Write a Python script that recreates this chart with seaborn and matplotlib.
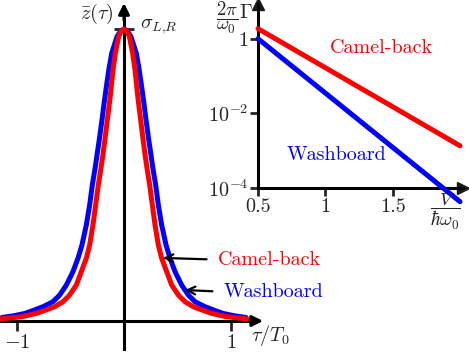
import matplotlib
matplotlib.use("Agg")
import matplotlib.pyplot as plt
import pandas as pd
import seaborn as sns


# main panel (tau / T0, z bar)
RED_TAU = [-1.15, -0.95, -0.82, -0.726, -0.648, -0.57, -0.508, -0.446, -0.399, -0.352, -0.321, -0.29,
           -0.265, -0.24, -0.213, -0.195, -0.175, -0.156, -0.136, -0.119, -0.103, -0.081, -0.05, -0.025,
           0.0,
           0.025, 0.05, 0.081, 0.103, 0.119, 0.136, 0.156, 0.175, 0.195, 0.213, 0.24, 0.265,
           0.29, 0.321, 0.352, 0.399, 0.446, 0.508, 0.57, 0.648, 0.726, 0.82, 0.95, 1.15]
RED_Z = [0.007, 0.015, 0.026, 0.038, 0.049, 0.066, 0.089, 0.123, 0.169, 0.215, 0.26, 0.329,
         0.397, 0.466, 0.528, 0.574, 0.631, 0.688, 0.746, 0.802, 0.86, 0.917, 0.974, 0.993,
         1.0,
         0.993, 0.974, 0.917, 0.86, 0.802, 0.746, 0.688, 0.631, 0.574, 0.528, 0.466, 0.397,
         0.329, 0.26, 0.215, 0.169, 0.123, 0.089, 0.066, 0.049, 0.038, 0.026, 0.015, 0.007]
BLUE_TAU = [-1.14, -1.03, -0.925, -0.85, -0.757, -0.664, -0.601, -0.539, -0.477, -0.43, -0.393, -0.352,
            -0.321, -0.296, -0.268, -0.25, -0.227, -0.206, -0.186, -0.165, -0.142, -0.115, -0.065, -0.032,
            0.0,
            0.032, 0.065, 0.115, 0.142, 0.165, 0.186, 0.206, 0.227, 0.25, 0.268, 0.296, 0.321,
            0.352, 0.393, 0.43, 0.477, 0.539, 0.601, 0.664, 0.757, 0.85, 0.925, 1.03, 1.14]
BLUE_Z = [0.012, 0.018, 0.026, 0.036, 0.049, 0.066, 0.089, 0.123, 0.169, 0.215, 0.26, 0.329,
          0.397, 0.466, 0.528, 0.574, 0.631, 0.688, 0.746, 0.802, 0.86, 0.917, 0.974, 0.993,
          1.0,
          0.993, 0.974, 0.917, 0.86, 0.802, 0.746, 0.688, 0.631, 0.574, 0.528, 0.466, 0.397,
          0.329, 0.26, 0.215, 0.169, 0.123, 0.089, 0.066, 0.049, 0.036, 0.026, 0.018, 0.012]

# inset: rate vs barrier height (log scale)
INSET_V = [0.5, 2.0]
RED_RATE = [1.86, 1.35e-3]
BLUE_RATE = [1.0, 4.3e-5]

X_TICKS = [-1, 1]
X_TICK_LABELS = ["$-1$", "$1$"]
INSET_X_TICKS = [0.5, 1, 1.5]
INSET_X_LABELS = ["0.5", "1", "1.5"]
INSET_Y_TICKS = [1, 1e-2, 1e-4]
INSET_Y_LABELS = ["1", "$10^{-2}$", "$10^{-4}$"]

RED = "#ff0000"
BLUE = "#0000ff"
PALETTE = {"Washboard": BLUE, "Camel-back": RED}
FS = 14.5
W, H = 469, 352

sns.set_theme(style="white")
plt.rcParams["font.family"] = ["cmr10", "DejaVu Serif"]
plt.rcParams["mathtext.fontset"] = "cm"
plt.rcParams["axes.unicode_minus"] = False
plt.rcParams["axes.formatter.use_mathtext"] = True

fig = plt.figure(figsize=(W / 100, H / 100), dpi=100)
ax = fig.add_axes([0, 0, 1, 1])
ax.patch.set_alpha(0)

main_df = pd.concat([
    pd.DataFrame({"tau": BLUE_TAU, "z": BLUE_Z, "pot": "Washboard"}),
    pd.DataFrame({"tau": RED_TAU, "z": RED_Z, "pot": "Camel-back"}),
])
sns.lineplot(data=main_df, x="tau", y="z", hue="pot", palette=PALETTE,
             sort=False, estimator=None, lw=3.6, legend=False, ax=ax, zorder=3)
for line in ax.lines:
    line.set_solid_joinstyle("round")

ax.set_xlim(-124 / 107, 345 / 107)
ax.set_ylim(-31 / 292, 321 / 292)
ax.set_xlabel("")
ax.set_ylabel("")
for side in ["top", "right"]:
    ax.spines[side].set_visible(False)
for side in ["left", "bottom"]:
    ax.spines[side].set_position(("data", 0))
    ax.spines[side].set_linewidth(2.2)
    ax.spines[side].set_color("black")
    ax.spines[side].set_zorder(2)
ax.spines["bottom"].set_bounds(-1.16, 1.24)
ax.spines["left"].set_bounds(-0.095, 1.05)

ax.set_xticks(X_TICKS, X_TICK_LABELS, fontsize=FS)
ax.set_yticks([1], [""])
ax.tick_params(axis="x", direction="out", length=7, width=2, pad=2, bottom=True)
ax.tick_params(axis="y", direction="inout", length=14, width=2, left=True)

arrow_kw = dict(arrowstyle="-|>", lw=2.2, color="black", mutation_scale=16, shrinkA=0, shrinkB=0)
ax.annotate("", xy=(1.30, 0), xytext=(1.2, 0), arrowprops=arrow_kw)
ax.annotate("", xy=(0, 1.089), xytext=(0, 1.03), arrowprops=arrow_kw)

ax.text(-0.25, 1.05, r"$\bar{z}(\tau)$", fontsize=FS, ha="center", va="center")
ax.text(0.15, 1.01, r"$\sigma_{L{,}R}$", fontsize=FS, ha="left", va="center")
ax.text(1.19, -0.05, r"$\tau/T_0$", fontsize=FS, ha="left", va="center")

pointer = dict(arrowstyle="->", lw=1.6, color="black", mutation_scale=14, shrinkA=6, shrinkB=0,
               relpos=(0, 0.5))
ax.annotate("Camel-back", xy=(0.364, 0.216), xytext=(0.88, 0.21), color=RED, fontsize=FS,
            va="center", ha="left", arrowprops=pointer)
ax.annotate("Washboard", xy=(0.57, 0.106), xytext=(0.935, 0.10), color=BLUE, fontsize=FS,
            va="center", ha="left", arrowprops=pointer)

# inset
ins = fig.add_axes([258 / W, (H - 188) / H, 204.7 / W, 184 / H])
ins.patch.set_alpha(0)
ins.set_yscale("log")
inset_df = pd.concat([
    pd.DataFrame({"v": INSET_V, "rate": RED_RATE, "pot": "Camel-back"}),
    pd.DataFrame({"v": INSET_V, "rate": BLUE_RATE, "pot": "Washboard"}),
])
sns.lineplot(data=inset_df, x="v", y="rate", hue="pot", palette=PALETTE,
             estimator=None, lw=3.6, legend=False, ax=ins, zorder=3)
for line in ins.lines:
    line.set_clip_on(False)
ins.set_xlim(0.5, 2.02)
ins.set_ylim(1e-4, 10 ** 0.93)
ins.set_xlabel("")
ins.set_ylabel("")
for side in ["top", "right"]:
    ins.spines[side].set_visible(False)
for side in ["left", "bottom"]:
    ins.spines[side].set_linewidth(2.2)
    ins.spines[side].set_color("black")
ins.set_xticks(INSET_X_TICKS, INSET_X_LABELS, fontsize=FS)
ins.set_yticks(INSET_Y_TICKS, INSET_Y_LABELS, fontsize=FS)
ins.minorticks_off()
ins.tick_params(direction="out", length=6, width=2, pad=1, bottom=True, left=True)
ins.plot(1, 0, ">k", ms=8, transform=ins.transAxes, clip_on=False)
ins.plot(0, 1, "^k", ms=8, transform=ins.transAxes, clip_on=False)

ins.text(1.035, 0.574, "Camel-back", color=RED, fontsize=FS, ha="left", va="center")
ins.text(0.715, 7.8e-4, "Washboard", color=BLUE, fontsize=FS, ha="left", va="center")

# axis labels of the inset, placed in figure pixels
fig.text(227 / W, 1 - 18 / H, r"$\dfrac{2\pi}{\omega_0}$", fontsize=13.5, ha="center", va="center")
fig.text(239 / W, 1 - 13 / H, r"$\Gamma$", fontsize=FS, ha="left", va="center")
fig.text(445 / W, 1 - 212 / H, r"$\dfrac{V}{\hbar\omega_0}$", fontsize=13.5, ha="center", va="center")

fig.savefig("out.png", dpi=100)
